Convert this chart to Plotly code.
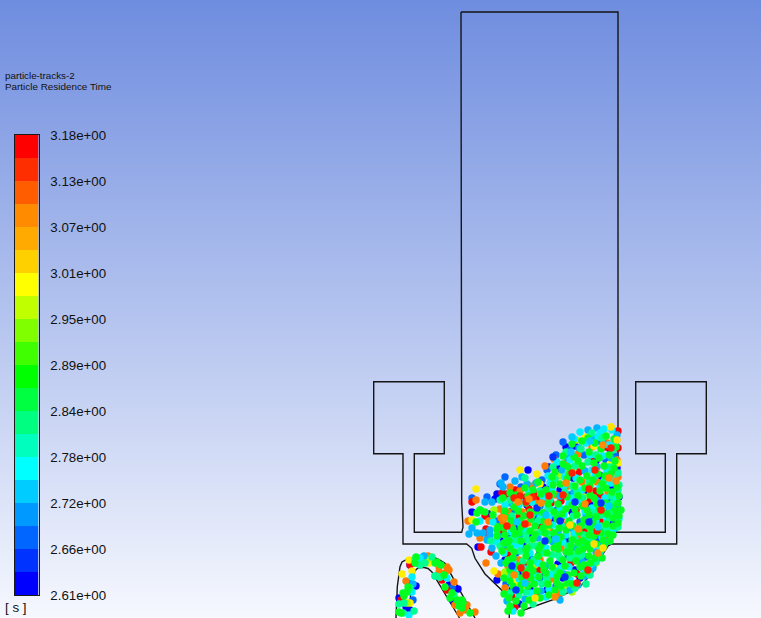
import plotly.graph_objects as go

# ---------- colour legend ----------
BAND_COLORS = ["#0000ff","#0033ff","#0066ff","#0099ff","#00ccff","#00ffff","#00ffbf","#00ff80","#00ff40","#00ff00",
               "#40ff00","#80ff00","#bfff00","#ffff00","#ffd000","#ffaa00","#ff8b00","#ff5d00","#ff2e00","#ff0000"]
BAND_LOWS = [2.6100,2.6385,2.6670,2.6955,2.7240,2.7525,2.7810,2.8095,2.8380,2.8665,
             2.8950,2.9235,2.9520,2.9805,3.0090,3.0375,3.0660,3.0945,3.1230,3.1515]
BAND_STEP = [0.0285]*20
TICK_VALUES = [2.61,2.667,2.724,2.781,2.838,2.895,2.952,3.009,3.066,3.123,3.18]
TICK_LABELS = ["2.61e+00","2.66e+00","2.72e+00","2.78e+00","2.84e+00","2.89e+00","2.95e+00","3.01e+00","3.07e+00","3.13e+00","3.18e+00"]

# ---------- background ----------
BG_ROW = [0,100,200,300,400,500,618]
BG_LEVEL = [0.0,0.162,0.324,0.485,0.647,0.809,1.0]

# ---------- geometry outlines ----------
wall_x = [461,461,461.7,463,461.7,414.3,414.3,444.3,444.3,373.7,373.7,403,403,466.7,471.7,475,485,505.7,509,509.3]
wall_y = [12,450,503,527,532.3,532.3,453.7,453.7,381.7,381.7,453.7,453.7,544,544,548.3,558.3,574,594,600,618]
wall2_x = [521,533,556.7,580,593.3,603.3,608,611.7,676.7,676.7,706.3,706.3,635.7,635.7,665.3,665.3,616.7,613.3,618,618,461]
wall2_y = [611,606.5,598.3,586.7,571.7,553.3,546,544,544,453.7,453.7,381.7,381.7,453.7,453.7,532.3,532.3,529.3,517,12,12]
outer_x = [396,396.5,397.3,400,402,406.7,420,433,439,445,473.3,475]
outer_y = [618,602,586.7,566.7,562,559.3,555.5,557,559.5,563.3,616,618]
inner_x = [410,410.5,412,415,418,423.3,428,431.7,458.3,459.5]
inner_y = [618,595,580,570.7,568,567.3,568.5,571.7,616,618]

# ---------- particles, one list per colour class ----------
blue = [(497,494),(495,499),(472,512),(478,547),(497,580),(505,560),(510,497),(527,505),(543,487),(551,486),(566,447),(575,446),(549,467),(558,468),
(573,478),(596,461),(610,449),(617,468),(612,486),(619,497),(605,513),(590,505),(572,512),(552,520),(535,518),(516,527),(501,541),(524,546),(540,552),(558,564),(575,570),(590,544),(566,540),(545,572),
(520,574),(530,588),(512,590),(519,604),(547,590),(563,578),(580,578),(600,528),(612,522),(618,509),(560,490),(529,534),(489,514),(508,536),(528,470),(601,476),(586,493),(410,565),(449,585),(399,598),(454,602),(406,607),(410,610),(458,589),(416,586)]
royal = [(505,477),(472,498),(487,497),(500,484),(556,455),(563,442),(570,450),(584,455),(598,441),(606,460),(542,480),(521,487),(512,511),(498,521),(540,506),(557,510),(580,522),(598,539),(586,557),
(568,555),(549,537),(531,559),(516,553),(506,584),(540,578),(556,586),(576,585),(592,520),(609,500),(615,456),(570,495),(547,470),(409,583),(452,588),(413,600)]
red = [(472,502),(502,493),(507,494),(518,499),(485,516),(486,529),(486,533),(503,532),(481,547),(491,552),(515,490),(526,497),(534,493),(538,499),(529,509),(519,517),(545,513),(561,501),(576,510),(588,500),(600,495),(612,471),(618,448),(618,431),
(606,447),(591,461),(579,472),(551,503),(540,526),(508,555),(524,565),(538,570),(577,574),(583,568),(571,563),(515,607),(512,597),(536,596),(596,491),(585,529),(601,522),(413,563),(410,565),(401,600),(442,580),(447,590),(561,519)]
orange = [(476,500),(510,487),(500,509),(508,512),(504,513),(468,521),(489,521),(501,518),(503,522),(480,538),(486,563),(498,574),(504,549),(520,491),(532,486),(545,466),(554,459),(566,463),(578,454),(592,447),(607,443),(617,460),(618,477),(608,492),
(597,482),(582,482),(568,486),(556,495),(545,500),(535,503),(522,512),(512,524),(528,523),(550,530),(566,525),(578,538),(594,511),(605,537),(586,546),(561,548),(540,560),(519,560),(508,566),(505,588),(527,581),(551,579),(556,596),(560,593),(428,556),(447,567),(439,567),(406,581),(445,573),(449,570),(439,572),(454,582),(455,605),(465,610),(460,613),(467,605),(475,612)]
yellow = [(537,474),(611,427),(594,446),(472,520),(476,489),(494,571),(505,573),(520,470),(540,484),(573,469),(585,437),(618,463),(610,464),(584,497),(597,530),(570,533),(555,568),(530,545),(523,589),(515,583),(552,593),(596,563),(409,560),(429,563),(402,574),(410,603),(412,571)]
lime = [(505,572),(494,510),(497,527),(560,476),(576,440),(614,493),(547,528),(535,565),(572,592),(564,587),(594,565),(407,603),(427,560)]
azure = [(501,483),(515,481),(485,502),(492,502),(472,528),(469,534),(477,533),(483,533),(490,530),(490,535),(498,536),(492,548),(503,487),(522,477),(527,484),(536,483),(551,477),(562,470),(588,430),(597,428),
(593,437),(579,448),(568,458),(603,443),(617,435),(611,458),(597,467),(585,471),(574,492),(560,496),(548,494),(537,512),(519,500),(510,503),(596,500),(608,510),(617,516),(586,515),(571,528),(553,542),(538,538),(520,535),(507,545),(513,569),(530,576),
(546,566),(564,574),(582,562),(596,552),(603,545),(576,548),(558,532),(424,556),(419,564),(413,584),(560,600),(507,601),(525,599),(541,591),(496,556),(501,563),(487,540),(570,590),(585,576),(593,568),(578,585),(600,553),(614,529),(617,505),(606,542)]
cyan = [(604,429),(612,430),(600,433),(615,443),(586,443),(574,439),(590,455),(607,471),(565,477),(550,483),(529,493),(519,505),(505,505),(493,522),(480,521),(532,502),(548,508),(569,504),(582,490),(595,476),(615,480),(605,498),(592,508),(579,500),(564,515),(553,525),(540,518),(525,530),(511,532),(596,520),(612,530),(607,520),(574,534),
(587,538),(563,542),(546,548),(530,553),(515,545),(504,553),(519,579),(535,583),(552,574),(569,567),(584,572),(570,580),(546,597),(513,611),(420,558),(412,577),(409,615),(440,577),(435,576),(447,578),(412,592),
(598,437),(609,445),(603,456),(592,470),(576,478),(564,486),(552,489),(543,497),(585,511),(572,498),(600,487),(611,483),(560,508),(549,517),(535,524),(566,535),(580,544),(594,526),(520,545),(507,540),(538,563),(561,568),(549,589),(537,576),(531,593),(513,562),(525,569),(497,542),(580,432),(570,460),(557,462),(548,476),(590,565),(616,499),(611,511),(619,519),(602,537)]
teal = [(592,433),(602,438),(581,449),(566,452),(575,466),(596,455),(613,450),(618,473),(555,479),(540,491),(525,478),(510,500),(500,500),(480,510),(512,516),(532,515),(550,500),(565,492),(577,492),(589,481),(604,481),(618,490),(603,507),(613,503),(586,525),(573,516),(556,514),(540,532),(527,540),(512,539),
(491,541),(500,546),(520,551),(536,546),(552,555),(568,546),(584,535),(601,515),(593,530),(610,513),(606,530),(575,556),(560,558),(542,584),(526,592),(511,575),(510,593),(519,595),(533,604),(556,571),(579,556),(590,575),(432,557),(420,565),(415,560),(425,563),(410,588),(435,576),(440,577),(404,603),(454,595),(403,613),(399,604),(414,611),
(588,462),(610,467),(572,486),(583,498),(595,513),(609,517),(550,509),(538,521),(526,535),(548,534),(562,526),(575,539),(590,541),(600,526),(516,540),(531,546),(543,553),(558,555),(570,558),(582,555),(523,561),(534,560),(547,579),(516,574),(563,592),(553,467),(601,550),(586,584),(596,562),(575,588),(619,485),(611,496),(618,527),(608,527)]
green = [(606,436),(614,439),(616,447),(595,443),(582,441),(572,444),(589,452),(601,449),(609,455),(574,457),(563,464),(582,466),(594,463),(604,466),(615,461),(555,472),(569,474),(587,476),(598,474),(611,474),(560,484),(575,486),(590,486),(602,484),(617,487),(533,490),(546,490),(553,494),(567,497),(578,496),(590,495),(600,491),(612,492),
(525,488),(510,493),(503,498),(480,510),(477,513),(485,512),(476,522),(498,527),(514,507),(526,503),(538,507),(548,504),(558,504),(572,505),(582,506),(597,504),(618,503),(616,511),(601,511),(589,515),(577,515),(566,509),(554,512),(543,513),(530,512),(518,511),(506,517),(511,521),(520,521),(531,519),(544,521),(557,519),(569,521),(581,526),(593,523),(606,524),(613,526),
(497,530),(504,528),(513,529),(521,527),(535,526),(543,528),(554,533),(566,530),(579,532),(590,528),(601,533),(608,534),(594,536),(583,541),(572,540),(561,537),(548,540),(535,534),(521,541),(510,548),(505,535),(515,534),(530,531),(541,545),(554,548),(566,552),(578,551),(590,549),(603,540),(596,544),(583,549),(571,546),(558,543),(527,548),(513,558),(526,556),(538,556),(550,561),(563,560),(576,561),(589,556),(574,573),
(502,551),(508,560),(518,566),(530,563),(543,565),(557,577),(567,583),(580,567),(590,563),(595,558),(504,578),(510,581),(521,585),(533,571),(546,573),(557,583),(568,575),(584,565),(510,570),(528,586),(537,591),(548,584),(555,590),(510,606),(516,601),(524,606),(508,611),(529,600),(540,598),(521,613),(504,594),(513,586),(509,598),
(416,557),(437,562),(441,565),(435,563),(415,563),(407,592),(403,593),(445,587),(450,598),(457,600),(462,600),(462,608),(470,613),(463,603),(399,612),(408,587),(401,613),(404,596),(444,575),(452,593),(459,606),(568,467),(578,461),(559,528),(547,553),(573,526),(587,510),(606,488),(539,577),(599,458),(525,572),
(524,516),(536,511),(549,525),(562,514),(575,509),(594,498),(584,520),(570,552),(558,549),(545,533),(533,539),(519,533),(509,541),(526,550),(539,549),(552,567),(565,566),(578,543),(589,535),(607,514),(596,517),(613,518),(585,488),(605,476),(614,468),(593,480),(580,480),(567,479),(553,485),(541,494),(528,496),(516,495),(599,507),(587,544),(604,546),(560,573),(522,578),(531,578),(544,570),
(588,438),(563,456),(552,477),(538,482),(505,511),(497,536),(493,515),(504,543),(514,552),(530,568),(587,571),(581,576),(572,584),(561,586),(549,595),(534,584),(520,590),(506,563),(602,558),(610,541),(618,523),(619,496),(621,510),(612,507),(606,503),(613,535),(619,516)]

# particles that lie on top of the rest in the picture
top_red = [(514,498),(520,496),(526,502),(533,497),(601,510),(589,489),(563,495),(572,473),(530,515),(549,496),(525,524),(507,526),(595,470),(611,448),(597,531),(521,568),(526,575),(577,583),(588,570)]
top_blue = [(560,521),(537,508),(575,502),(589,522),(545,541),(512,566),(565,577),(601,503),(553,457),(516,590)]
top_orange = [(518,502),(529,499),(541,503),(504,518),(566,483),(609,478),(585,504),(548,522),(514,575),(578,529),(598,553),(555,597),(603,445),(616,481)]
top_yellow = [(611,427),(617,440),(570,525),(594,544),(603,548),(535,598)]
top_azure = [(572,437),(590,441),(571,452),(546,515),(525,583),(609,506),(556,539),(598,527),(517,522)]

CLASSES = [("#0000ff",blue),("#0066ff",royal),("#ff0000",red),("#ff7a00",orange),("#ffee00",yellow),("#9fff00",lime),
           ("#00b4ff",azure),("#00f0ff",cyan),("#00ff90",teal),("#00ff20",green),
           ("#ff2000",top_red),("#0033ff",top_blue),("#ff8b00",top_orange),("#ffe000",top_yellow),("#00ccff",top_azure)]

fig = go.Figure()

# background gradient
fig.add_trace(go.Heatmap(x=[-100,861], y=BG_ROW, z=[[v,v] for v in BG_LEVEL], zmin=0, zmax=1, zsmooth="best", showscale=False,
                         colorscale=[[0,"#6f8ddf"],[1,"#f6f8fe"]], hoverinfo="skip", xaxis="x", yaxis="y"))

# outlines
for xs, ys in [(wall_x,wall_y),(wall2_x,wall2_y),(outer_x,outer_y),(inner_x,inner_y)]:
    fig.add_trace(go.Scatter(x=xs,y=ys,mode="lines",line=dict(color="#151515",width=1.4),hoverinfo="skip",showlegend=False))

# particles
for col, pts in CLASSES:
    fig.add_trace(go.Scatter(x=[p[0] for p in pts],y=[p[1] for p in pts],mode="markers",
                             marker=dict(size=7.4,color=col,line=dict(width=0)),hoverinfo="skip",showlegend=False))

# legend bar on its own value axis
fig.add_trace(go.Bar(x=[0.5]*20,y=BAND_STEP,base=BAND_LOWS,width=1,marker=dict(color=BAND_COLORS,line=dict(width=0)),
                     xaxis="x2",yaxis="y2",hoverinfo="skip",showlegend=False))

W, H = 761, 618
fig.update_layout(
    width=W,height=H,autosize=False,margin=dict(l=0,r=0,t=0,b=0,pad=0),paper_bgcolor="#f3f5fc",plot_bgcolor="rgba(0,0,0,0)",
    showlegend=False,barmode="overlay",
    xaxis=dict(range=[0,761],domain=[0,1],visible=False,fixedrange=True,automargin=False),
    yaxis=dict(range=[618,0],domain=[0,1],visible=False,fixedrange=True,automargin=False),
    xaxis2=dict(range=[0,1],domain=[15/W,38.5/W],anchor="y2",showticklabels=False,ticks="",showgrid=False,zeroline=False,
                showline=True,mirror=True,linecolor="#1a1a1a",linewidth=1.3,fixedrange=True,automargin=False),
    yaxis2=dict(range=[2.61,3.18],domain=[(H-595)/H,(H-135)/H],anchor="x2",side="right",tickmode="array",tickvals=TICK_VALUES,ticktext=TICK_LABELS,
                ticks="outside",ticklen=8,tickcolor="rgba(0,0,0,0)",showgrid=False,zeroline=False,showline=True,mirror=True,automargin=False,
                linecolor="#1a1a1a",linewidth=1.3,tickfont=dict(family="Liberation Sans",size=13.3,color="#111111"),fixedrange=True),
    annotations=[
        dict(text="particle-tracks-2",xref="x",yref="y",x=3,y=75.5,xanchor="left",yanchor="middle",showarrow=False,
             font=dict(family="Liberation Sans",size=9.8,color="#111111")),
        dict(text="Particle Residence Time",xref="x",yref="y",x=3,y=86,xanchor="left",yanchor="middle",showarrow=False,
             font=dict(family="Liberation Sans",size=9.9,color="#111111")),
        dict(text="[ s ]",xref="x",yref="y",x=3,y=607,xanchor="left",yanchor="middle",showarrow=False,
             font=dict(family="Liberation Sans",size=13.3,color="#111111")),
    ],
)
fig.write_html("out.html", config={"displayModeBar": False},
               post_script="document.body.style.margin='0';document.documentElement.style.overflow='hidden';")
